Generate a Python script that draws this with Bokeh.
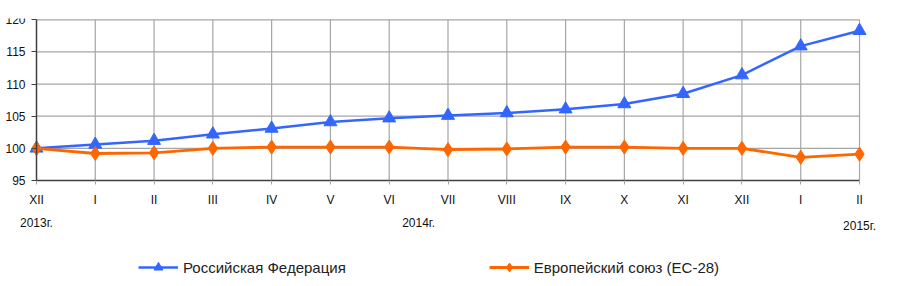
from bokeh.plotting import figure
from bokeh.models import (Range1d, FixedTicker, LinearAxis, Legend, LegendItem,
                          ColumnDataSource)
from bokeh.embed import file_html
from bokeh.resources import INLINE

# ---- data ----
months = ["XII", "I", "II", "III", "IV", "V", "VI", "VII", "VIII", "IX", "X",
          "XI", "XII", "I", "II"]
russia = [100.0, 100.6, 101.2, 102.2, 103.1, 104.1, 104.7, 105.1, 105.5,
          106.1, 106.9, 108.5, 111.4, 115.9, 118.3]
eu = [100.0, 99.2, 99.3, 100.0, 100.2, 100.2, 100.2, 99.8, 99.9, 100.2,
      100.2, 100.0, 100.0, 98.6, 99.1]
years = ["2013г.", "2014г.", "2015г."]
year_pos = [0, 6.5, 14]
y_ticks = [95, 100, 105, 110, 115, 120]
series_names = ["Российская Федерация", "Европейский союз (ЕС-28)"]

FONT = "Liberation Sans"
BLUE = "#3366FF"
ORANGE = "#FF6600"
GRID = "#A6A6A6"
AXIS = "#404040"

xs = list(range(len(months)))
n_last = len(months) - 1
y_lo, y_hi = y_ticks[0], y_ticks[-1]

# frame covers the whole canvas; the chart area is 0..14 x 95..120
p = figure(width=895, height=286, output_backend="svg", toolbar_location=None,
           x_range=Range1d(-0.578, n_last + 0.578),
           y_range=Range1d(78.82, y_hi + 0.2),
           min_border_left=2, min_border_right=2, min_border_top=18,
           min_border_bottom=2)
p.outline_line_color = None
p.background_fill_color = "white"
p.border_fill_color = "white"
p.xgrid.grid_line_color = None
p.ygrid.grid_line_color = None

# grid lines limited to the chart area
hy = y_ticks[1:]
p.segment(x0=[0] * len(hy), x1=[n_last] * len(hy), y0=hy, y1=hy,
          line_color=GRID, line_width=1.2)
vx = xs[1:]
p.segment(x0=vx, x1=vx, y0=[y_lo] * len(vx), y1=[y_hi] * len(vx),
          line_color=GRID, line_width=1.2)

def style_labels(ax):
    ax.major_label_text_font = FONT
    ax.major_label_text_font_size = "12px"
    ax.major_label_text_color = "#111111"
    ax.minor_tick_line_color = None

# x axis (months) at y = 95
xa = p.xaxis[0]
xa.fixed_location = y_lo
xa.ticker = FixedTicker(ticks=xs)
xa.major_label_overrides = {i: m for i, m in enumerate(months)}
xa.bounds = (0, n_last)
xa.axis_line_color = AXIS
xa.axis_line_width = 1.5
xa.major_tick_line_color = GRID
xa.major_tick_in = 0
xa.major_tick_out = 4
xa.major_label_standoff = 9
style_labels(xa)

# year labels: two axes (the last year sits a little lower)
for ticks, standoff in ((year_pos[:2], 36), (year_pos[2:], 39)):
    yr = LinearAxis(ticker=FixedTicker(ticks=ticks),
                    major_label_overrides={pos: years[year_pos.index(pos)]
                                           for pos in ticks})
    yr.fixed_location = y_lo
    yr.axis_line_color = None
    yr.major_tick_line_color = None
    yr.major_tick_in = 0
    yr.major_tick_out = 0
    yr.major_label_standoff = standoff
    style_labels(yr)
    p.add_layout(yr, "below")

# y axis at x = 0
yax = p.yaxis[0]
yax.fixed_location = 0
yax.ticker = FixedTicker(ticks=y_ticks)
yax.bounds = (y_lo, y_hi)
yax.axis_line_color = AXIS
yax.axis_line_width = 1.5
yax.major_tick_line_color = AXIS
yax.major_tick_in = 0
yax.major_tick_out = 5
yax.major_label_standoff = 6
style_labels(yax)

src = ColumnDataSource(dict(x=xs, ru=russia, eu=eu))

l1 = p.line("x", "ru", source=src, line_color=BLUE, line_width=2.5)
m1 = p.scatter("x", "ru", source=src, marker="triangle", size=13,
               fill_color=BLUE, line_color=BLUE)
l2 = p.line("x", "eu", source=src, line_color=ORANGE, line_width=2.8)
m2 = p.scatter("x", "eu", source=src, marker="diamond", size=14,
               fill_color=ORANGE, line_color=ORANGE)

legend = Legend(items=[LegendItem(label=series_names[0], renderers=[l1, m1]),
                       LegendItem(label=series_names[1], renderers=[l2, m2])],
                orientation="horizontal", location=(136, 6),
                glyph_width=40, glyph_height=22, label_standoff=5,
                spacing=143, padding=0, margin=0,
                label_text_font=FONT, label_text_font_size="15px",
                label_text_color="#222222",
                background_fill_alpha=0, border_line_color=None)
p.add_layout(legend, "center")

open("out.html", "w").write(file_html(p, INLINE))
